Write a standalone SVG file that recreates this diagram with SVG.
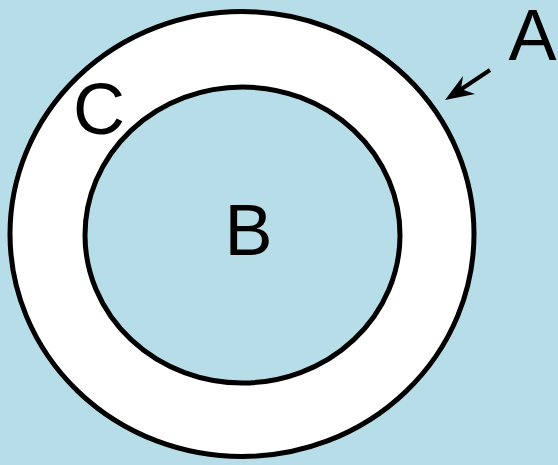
<svg xmlns="http://www.w3.org/2000/svg" width="558" height="465" viewBox="0 0 558 465">
<style>
.shape{stroke:#000;stroke-width:5}
.lbl{font-family:"Liberation Sans",Arial,sans-serif;font-size:72px;fill:#000;text-anchor:middle}
</style>
<rect width="558" height="465" fill="#b7dee8"/>
<g id="A">
<ellipse class="shape" cx="242" cy="234" rx="232" ry="222.5" fill="#fff"/>
<text class="lbl" x="532.5" y="60">A</text>
</g>
<g id="B">
<ellipse class="shape" cx="242.5" cy="235" rx="157.5" ry="148" fill="#b7dee8"/>
<text class="lbl" x="248.5" y="255">B</text>
</g>
<g id="C">
<text class="lbl" x="99" y="133.5">C</text>
</g>
<g id="connectors">
<line x1="490" y1="70" x2="460" y2="90" stroke="#000" stroke-width="4"/>
<path d="M445,100 L463,76 L461,89 L475,94 Z" fill="#000"/>
</g>
</svg>
